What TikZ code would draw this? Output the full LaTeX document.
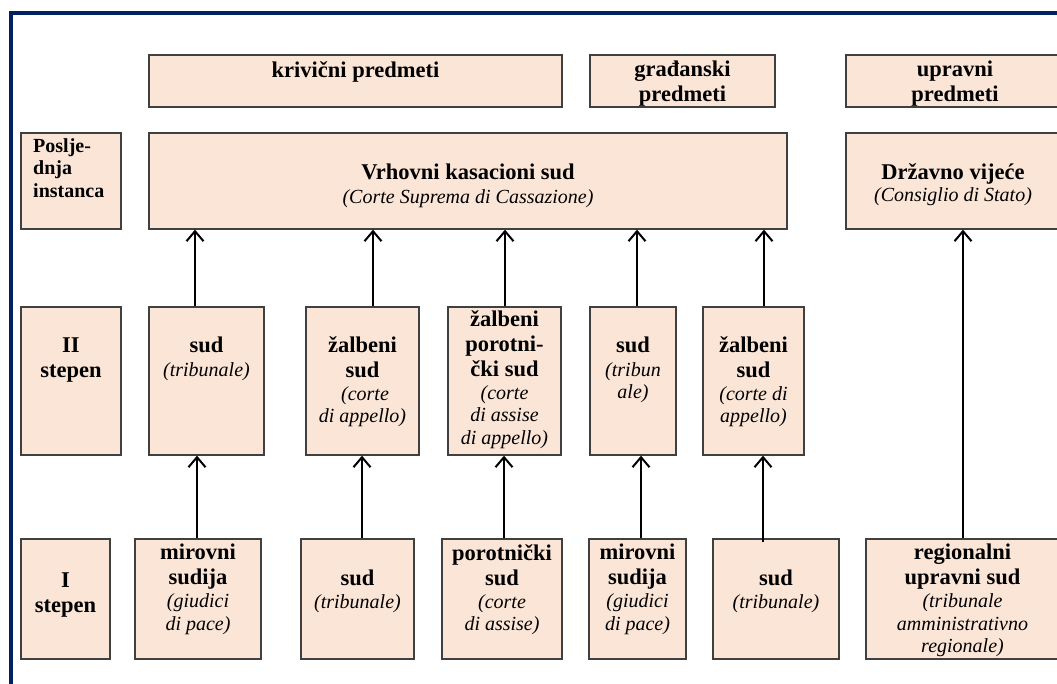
\documentclass[tikz,border=0pt]{standalone}
\usepackage{fontspec}
\setmainfont{Liberation Serif}
\usetikzlibrary{arrows.meta,fit}
\definecolor{boxfill}{HTML}{FBE5D6}
\definecolor{boxline}{HTML}{404040}
\definecolor{frameblue}{HTML}{002060}
\newcommand\itl{\mdseries\itshape\fontsize{20}{22.5}\selectfont}
\newcommand\mlines[1]{\begin{tabular}[t]{@{}c@{}}#1\end{tabular}}
\newcommand\llines[1]{\begin{tabular}[t]{@{}l@{}}#1\end{tabular}}
\begin{document}
\begin{tikzpicture}[x=1pt,y=-1pt,
  box/.style={draw=boxline, line width=1.3pt, fill=boxfill, inner sep=0pt},
  txt/.style={anchor=base, inner sep=0pt, font=\bfseries\fontsize{22.5}{25}\selectfont},
  smalltxt/.style={anchor=base west, inner sep=0pt, font=\bfseries\fontsize{20}{22.5}\selectfont},
  arr/.style={line width=2pt, -{Straight Barb[length=10pt,width=17pt]}},
  frameline/.style={draw=frameblue, line width=4pt}
]
\useasboundingbox (0,0) rectangle (1057,683);
\clip (0,0) rectangle (1057,683);
\fill[white] (0,0) rectangle (1057,683);
\draw[frameline] (11,700) -- (11,13) -- (1075,13);

% row 1
\node[box, fit={(149,55) (562,107)}] (t1) {};
\node[box, fit={(590,55) (775,107)}] (t2) {};
\node[box, fit={(846,55) (1064,107)}] (t3) {};
% row 2
\node[box, fit={(21,133) (121,229)}] (p1) {};
\node[box, fit={(149,133) (787,229)}] (vks) {};
\node[box, fit={(846,133) (1064,229)}] (dv) {};
% row 3
\node[box, fit={(21,307) (121,455)}] (s2) {};
\node[box, fit={(149,307) (264,455)}] (b1) {};
\node[box, fit={(306,307) (419,455)}] (b2) {};
\node[box, fit={(448,307) (561,455)}] (b3) {};
\node[box, fit={(590,307) (676,455)}] (b4) {};
\node[box, fit={(703,307) (804,455)}] (b5) {};
% row 4
\node[box, fit={(21,539) (110,659)}] (s1) {};
\node[box, fit={(135,539) (261,659)}] (c1) {};
\node[box, fit={(301,539) (414,659)}] (c2) {};
\node[box, fit={(442,539) (562,659)}] (c3) {};
\node[box, fit={(589,539) (686,659)}] (c4) {};
\node[box, fit={(713,539) (839,659)}] (c5) {};
\node[box, fit={(866,539) (1059,659)}] (c6) {};

% texts
\node[txt] (t1t) at (355.5,77) {krivični predmeti};
\node[txt] (t2t) at (682.5,76) {\mlines{građanski\\predmeti}};
\node[txt] (t3t) at (955,76) {\mlines{upravni\\predmeti}};

\node[smalltxt] (p1t) at (33,152) {\llines{Poslje-\\dnja\\instanca}};
\node[txt] (vkst) at (468,179) {\mlines{Vrhovni kasacioni sud\\[-1pt]\itl(Corte Suprema di Cassazione)}};
\node[txt] (dvt) at (953,179) {\mlines{Državno vijeće\\[-2.5pt]\itl(Consiglio di Stato)}};

\node[txt] (s2t) at (71,352) {\mlines{II\\stepen}};
\node[txt] (b1t) at (206.5,352) {\mlines{sud\\[-1pt]\itl(tribunale)}};
\node[txt] (b2t) at (362.5,352) {\mlines{žalbeni\\sud\\[-2pt]\itl\ (corte\\[-2.5pt]\itl di appello)}};
\node[txt] (b3t) at (504.5,326) {\mlines{žalbeni\\porotni-\\čki sud\\[-2pt]\itl(corte\\[-2.5pt]\itl di assise\\[-2.5pt]\itl di appello)}};
\node[txt] (b4t) at (633,352) {\mlines{sud\\[-1pt]\itl(tribun\\[-2.5pt]\itl ale)}};
\node[txt] (b5t) at (753.5,352) {\mlines{žalbeni\\sud\\[-2pt]\itl(corte di\\[-2.5pt]\itl appello)}};

\node[txt] (s1t) at (65.5,587) {\mlines{I\\stepen}};
\node[txt] (c1t) at (198,559.5) {\mlines{mirovni\\sudija\\[-2pt]\itl(giudici\\[-2.5pt]\itl di pace)}};
\node[txt] (c2t) at (357.5,585) {\mlines{sud\\[-1.5pt]\itl(tribunale)}};
\node[txt] (c3t) at (502,560) {\mlines{porotnički\\sud\\[-2pt]\itl(corte\\[-2.5pt]\itl di assise)}};
\node[txt] (c4t) at (637.5,559.5) {\mlines{mirovni\\sudija\\[-2pt]\itl(giudici\\[-2.5pt]\itl di pace)}};
\node[txt] (c5t) at (776,585) {\mlines{sud\\[-1.5pt]\itl(tribunale)}};
\node[txt] (c6t) at (962.5,559.5) {\mlines{regionalni\\upravni sud\\[-2pt]\itl(tribunale\\[-2.5pt]\itl amministrativno\\[-2.5pt]\itl regionale)}};

% connectors row 3 -> Vrhovni
\coordinate (a1) at ([xshift=-11.5pt]b1.north);
\coordinate (a2) at ([xshift=10.5pt]b2.north);
\coordinate (a3) at ([xshift=0.5pt]b3.north);
\coordinate (a4) at ([xshift=4pt]b4.north);
\coordinate (a5) at ([xshift=10.5pt]b5.north);
\foreach \a in {a1,a2,a3,a4,a5} \draw[arr] (\a) -- (\a |- vks.south);
% connectors row 4 -> row 3
\coordinate (d1) at ([xshift=-1pt]c1.north);
\coordinate (d2) at ([xshift=4.5pt]c2.north);
\coordinate (d3) at ([xshift=2pt]c3.north);
\coordinate (d4) at ([xshift=3.5pt]c4.north);
\coordinate (d5) at ([xshift=-13pt,yshift=-4pt]c5.north);
\coordinate (d6) at ([xshift=0.5pt]c6.north);
\draw[arr] (d1) -- (d1 |- b1.south);
\draw[arr] (d2) -- (d2 |- b2.south);
\draw[arr] (d3) -- (d3 |- b3.south);
\draw[arr] (d4) -- (d4 |- b4.south);
\draw[arr] (d5) -- (d5 |- b5.south);
\draw[arr] (d6) -- (d6 |- dv.south);
\end{tikzpicture}
\end{document}
